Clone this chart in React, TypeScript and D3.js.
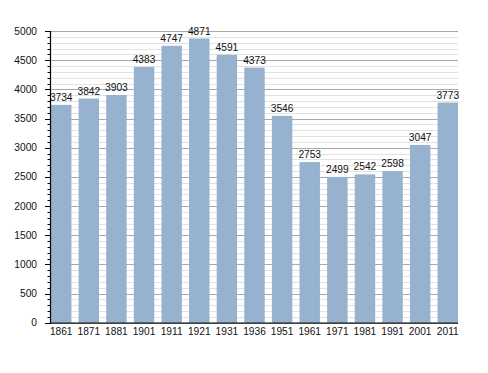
import React from "react";
import * as d3 from "d3";

const years = ["1861","1871","1881","1901","1911","1921","1931","1936","1951","1961","1971","1981","1991","2001","2011"];
const population = [3734,3842,3903,4383,4747,4871,4591,4373,3546,2753,2499,2542,2598,3047,3773];
const majorTicks = [0,500,1000,1500,2000,2500,3000,3500,4000,4500,5000];

export default function App() {
  const W = 488, H = 373;
  const left = 50, right = 458, top = 31, bottom = 322.7;
  const y = d3.scaleLinear().domain([0, 5000]).range([bottom, top]);
  const x = d3.scaleBand<string>().domain(years).range([51, 458]).paddingInner(0.26).paddingOuter(0);
  const minor = d3.range(0, 5001, 100).filter(v => v % 500 !== 0);
  const font = "'Liberation Sans', Arial, sans-serif";
  return (
    <svg width={W} height={H} style={{ position: "absolute", left: 0, top: 0 }} fontFamily={font}>
      <rect width={W} height={H} fill="#fff" />
      {minor.map(v => (
        <line key={"m" + v} x1={left} x2={right} y1={Math.round(y(v)) + 0.5} y2={Math.round(y(v)) + 0.5} stroke="#e2e2e2" strokeWidth={1} />
      ))}
      {majorTicks.filter(v => v > 0).map(v => (
        <line key={"g" + v} x1={left} x2={right} y1={Math.round(y(v)) + 0.5} y2={Math.round(y(v)) + 0.5} stroke="#a8a8a8" strokeWidth={1} />
      ))}
      {years.map((yr, i) => (
        <rect key={yr} x={x(yr)} y={y(population[i])} width={x.bandwidth()} height={bottom - y(population[i])} fill="#96b2cf" />
      ))}
      {years.map((yr, i) => (
        <text key={"v" + yr} x={(x(yr) as number) + x.bandwidth() / 2} y={y(population[i]) - 4} textAnchor="middle" fontSize={10.2} fill="#111">{population[i]}</text>
      ))}
      {minor.map(v => (
        <line key={"mt" + v} x1={left - 2.5} x2={left} y1={Math.round(y(v)) + 0.5} y2={Math.round(y(v)) + 0.5} stroke="#000" strokeWidth={1} />
      ))}
      {majorTicks.map(v => (
        <g key={"t" + v}>
          <line x1={left - 5} x2={left} y1={Math.round(y(v)) + 0.5} y2={Math.round(y(v)) + 0.5} stroke="#000" strokeWidth={1} />
          <text x={37} y={y(v)} dy="0.35em" textAnchor="end" fontSize={10.2} fill="#111">{v}</text>
        </g>
      ))}
      <line x1={left + 0.5} x2={left + 0.5} y1={top} y2={bottom + 1} stroke="#000" strokeWidth={1.2} />
      <line x1={left} x2={right} y1={bottom + 0.5} y2={bottom + 0.5} stroke="#000" strokeWidth={1.2} />
      {years.map(yr => (
        <text key={"x" + yr} x={(x(yr) as number) + x.bandwidth() / 2} y={331} dy="0.35em" textAnchor="middle" fontSize={10.2} fill="#111">{yr}</text>
      ))}
    </svg>
  );
}
